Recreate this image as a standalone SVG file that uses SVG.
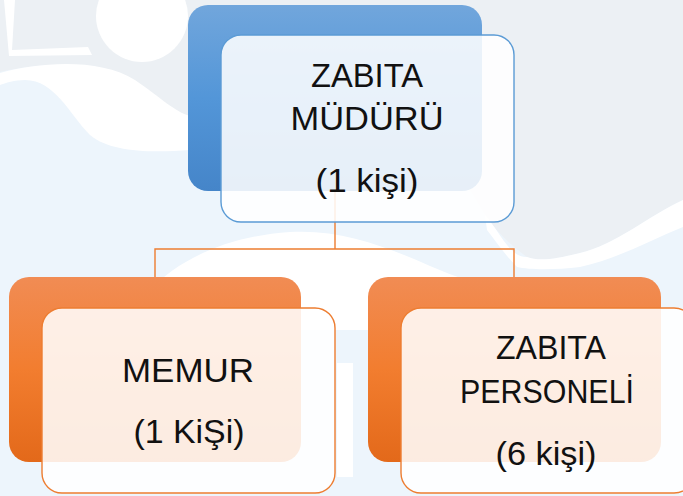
<svg xmlns="http://www.w3.org/2000/svg" width="683" height="496" viewBox="0 0 683 496">
  <defs>
    <linearGradient id="gBlue" x1="0" y1="0" x2="0" y2="1">
      <stop offset="0" stop-color="#71A6DC"/>
      <stop offset="0.5" stop-color="#5396D8"/>
      <stop offset="1" stop-color="#4585C9"/>
    </linearGradient>
    <linearGradient id="gOrange" x1="0" y1="0" x2="0" y2="1">
      <stop offset="0" stop-color="#F18C54"/>
      <stop offset="0.5" stop-color="#F27D2F"/>
      <stop offset="1" stop-color="#E3691A"/>
    </linearGradient>
    <style>
      .txt { font-family: "Liberation Sans", Arial, sans-serif; font-size: 34px; fill: #111; text-anchor: middle; }
      .front { fill: #FFFFFF; fill-opacity: 0.87; stroke-width: 1.4; }
      .frontBlue { stroke: #5B9BD5; }
      .frontOrange { stroke: #ED7D31; }
      .conn { fill: none; stroke: #ED7D31; stroke-width: 1.4; }
      .bgWhite { fill: #FFFFFF; }
    </style>
  </defs>

  <!-- background -->
  <g id="background">
    <rect x="0" y="0" width="683" height="496" fill="#EDF5FC"/>
    <path d="M0,0 H683 V200 C650,215 615,245 580,253 C560,258 540,262 527,257 C510,245 495,230 485,215 L470,190 L190,118 C170,112 150,95 130,78 C100,62 45,62 0,72 Z" fill="#ECF0F4"/>
    <path class="bgWhite" d="M0,73 C40,62 100,58 135,80 C160,97 175,112 190,116 L190,150 C150,153 110,152 90,135 C70,115 55,80 25,80 C15,80 5,83 0,85 Z"/>
    <ellipse class="bgWhite" cx="142" cy="16" rx="46" ry="46"/>
    <path class="bgWhite" d="M4,0 L15,0 L12,50 L88,47 L92,55 L9,56 Z"/>
    <path class="bgWhite" d="M485,215 C500,232 510,258 527,257 C540,262 560,258 580,253 C615,245 650,215 683,200 L683,227 C650,240 620,258 580,267 C555,270 530,270 517,267 C505,255 495,240 487,230 Z"/>
    <path class="bgWhite" d="M150,290 C180,258 230,236 290,232 C340,229 385,246 430,266 C465,281 500,292 540,292 L540,330 L150,330 Z"/>
    <rect class="bgWhite" x="337" y="363" width="16" height="114"/>
  </g>

  <!-- connectors -->
  <g id="connectors">
    <path class="conn" d="M335,191 V249 M155,277 V249 H514 V277"/>
  </g>

  <!-- top node -->
  <g id="node-mudur">
    <rect x="188" y="5" width="294" height="186" rx="20" fill="url(#gBlue)"/>
    <rect class="front frontBlue" x="221" y="35" width="293" height="187" rx="20"/>
    <text class="txt" x="367" y="87" textLength="112" lengthAdjust="spacingAndGlyphs">ZABITA</text>
    <text class="txt" x="367" y="130" textLength="153" lengthAdjust="spacingAndGlyphs">MÜDÜRÜ</text>
    <text class="txt" x="367" y="192" textLength="103" lengthAdjust="spacingAndGlyphs">(1 kişi)</text>
  </g>

  <!-- left node -->
  <g id="node-memur">
    <rect x="9" y="277" width="292" height="185" rx="20" fill="url(#gOrange)"/>
    <rect class="front frontOrange" x="42" y="308" width="293" height="185" rx="20"/>
    <text class="txt" x="188" y="382" textLength="132" lengthAdjust="spacingAndGlyphs">MEMUR</text>
    <text class="txt" x="189" y="443" textLength="111" lengthAdjust="spacingAndGlyphs">(1 KiŞi)</text>
  </g>

  <!-- right node -->
  <g id="node-personel">
    <rect x="368" y="277" width="293" height="185" rx="20" fill="url(#gOrange)"/>
    <rect class="front frontOrange" x="401" y="308" width="293" height="185" rx="20"/>
    <text class="txt" x="551" y="359" textLength="110" lengthAdjust="spacingAndGlyphs">ZABITA</text>
    <text class="txt" x="547" y="403" textLength="174" lengthAdjust="spacingAndGlyphs">PERSONELİ</text>
    <text class="txt" x="546" y="465" textLength="101" lengthAdjust="spacingAndGlyphs">(6 kişi)</text>
  </g>
</svg>
